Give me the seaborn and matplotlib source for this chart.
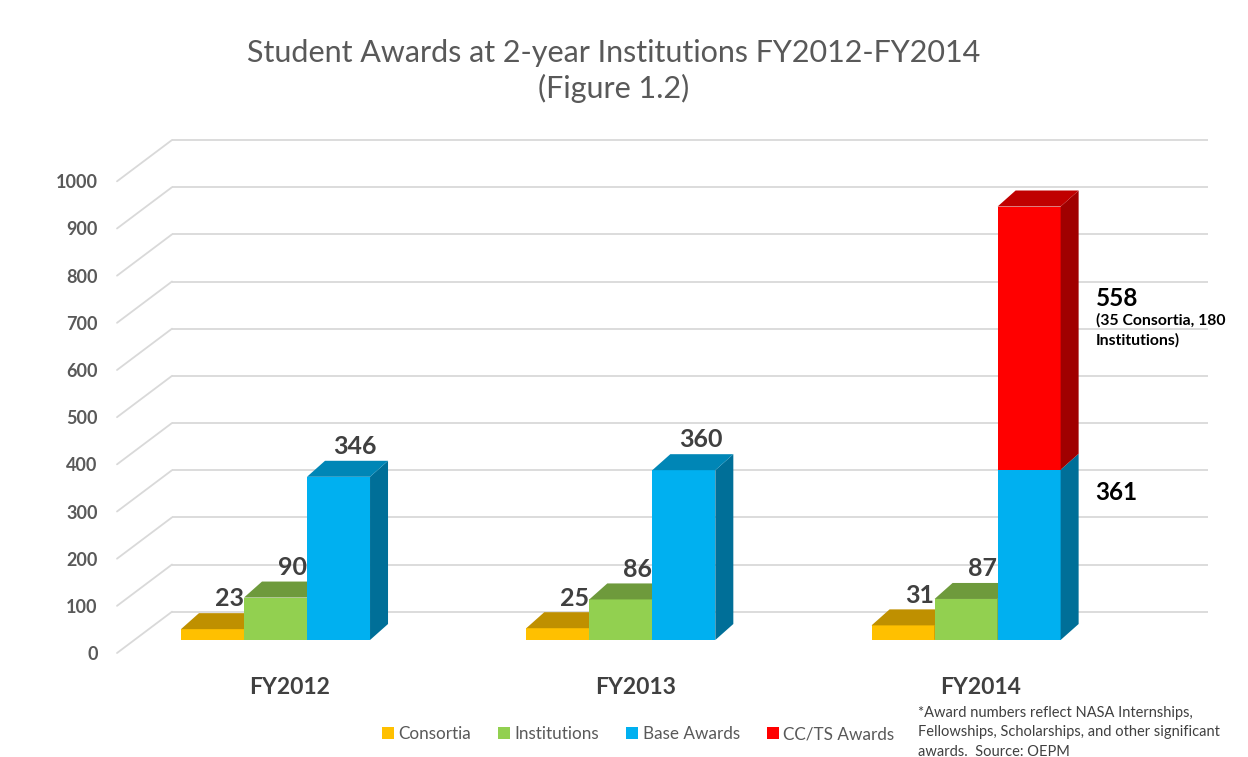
import matplotlib
matplotlib.use("Agg")
import matplotlib.pyplot as plt
from matplotlib.patches import Polygon
from matplotlib.lines import Line2D
import pandas as pd
import seaborn as sns

# ---- data -------------------------------------------------------------
years = ["FY2012", "FY2013", "FY2014"]
series = ["Consortia", "Institutions", "Base Awards", "CC/TS Awards"]
consortia = [23, 25, 31]
institutions = [90, 86, 87]
base_awards = [346, 360, 361]
ccts_awards = [0, 0, 558]
y_ticks = [0, 100, 200, 300, 400, 500, 600, 700, 800, 900, 1000]
ccts_note = "(35 Consortia, 180\nInstitutions)"
title = "Student Awards at 2-year Institutions FY2012-FY2014\n(Figure 1.2)"
footnote = ("*Award numbers reflect NASA Internships,\n"
            "Fellowships, Scholarships, and other significant\n"
            "awards.  Source: OEPM")

# ---- colours ----------------------------------------------------------
front_colors = {"Consortia": "#FFC000", "Institutions": "#92D050",
                "Base Awards": "#00B0F0", "CC/TS Awards": "#FF0000"}
top_colors = {"Consortia": "#BF9000", "Institutions": "#6E9A3C",
              "Base Awards": "#0086B6", "CC/TS Awards": "#C00000"}
side_colors = {"Consortia": "#A07800", "Institutions": "#5C8232",
               "Base Awards": "#006F98", "CC/TS Awards": "#A00000"}
GRID = "#D9D9D9"
TEXT_GRAY = "#595959"
LABEL_DARK = "#404040"

# ---- long-form table for seaborn --------------------------------------
df = pd.DataFrame({
    "year": years * 3,
    "series": [series[0]] * 3 + [series[1]] * 3 + [series[2]] * 3,
    "awards": consortia + institutions + base_awards,
})

sns.set_theme(style="white")
plt.rcParams["font.family"] = ["Lato", "DejaVu Sans"]

fig = plt.figure(figsize=(12.48, 7.57), dpi=100)
W, H = 1248, 757
ax = fig.add_axes([110 / W, (H - 660) / H, 1105 / W, 530 / H])

# pixel scale of the data axes
PX_X = 345.3          # pixels per category step
PX_V = 0.4717         # pixels per award
DX = 18 / PX_X        # bar depth, horizontal
DV = 16 / PX_V        # bar depth, vertical
FRONT_SHIFT = -27.6   # floor front edge relative to bar base
BACK_SHIFT = 60.0     # back wall relative to bar base
X_FRONT = (117 - 275.5) / PX_X
X_WALL0 = (172 - 275.5) / PX_X
X_WALL1 = (1208 - 275.5) / PX_X

sns.barplot(data=df, x="year", y="awards", hue="series",
            hue_order=series[:3], palette=front_colors, order=years,
            width=0.5475, saturation=1, linewidth=0, legend=False, ax=ax)

ax.set_xlim((110 - 275.5) / PX_X, (1215 - 275.5) / PX_X)
ax.set_ylim((640 - 660) / PX_V, (640 - 130) / PX_V)

# back wall gridlines and the receding floor/wall diagonals
for v in y_ticks:
    ax.plot([X_WALL0, X_WALL1], [v + BACK_SHIFT] * 2, color=GRID, lw=1.3,
            zorder=1, solid_capstyle="butt")
    ax.plot([X_FRONT, X_WALL0], [v + FRONT_SHIFT, v + BACK_SHIFT],
            color=GRID, lw=1.3, zorder=1)


def add_faces(x0, w, y0, y1, name, z, top=True):
    side = Polygon([(x0 + w, y0), (x0 + w + DX, y0 + DV),
                    (x0 + w + DX, y1 + DV), (x0 + w, y1)],
                   closed=True, fc=side_colors[name], ec="none", zorder=z)
    ax.add_patch(side)
    if top:
        cap = Polygon([(x0, y1), (x0 + w, y1), (x0 + w + DX, y1 + DV),
                       (x0 + DX, y1 + DV)],
                      closed=True, fc=top_colors[name], ec="none", zorder=z)
        ax.add_patch(cap)


bars = list(ax.patches)
for p in bars:
    x0, w, h = p.get_x(), p.get_width(), p.get_height()
    cx = x0 + w / 2
    gi = int(round(cx))
    hi = int(round((cx - gi) / w)) + 1
    name = series[hi]
    z = 3 + 2 * hi
    p.set_zorder(z)
    stacked = name == "Base Awards" and ccts_awards[gi] > 0
    add_faces(x0, w, 0, h, name, z, top=not stacked)
    if stacked:
        extra = ccts_awards[gi]
        ax.bar(x0, extra, width=w, bottom=h, align="edge",
               color=front_colors["CC/TS Awards"], linewidth=0, zorder=z)
        add_faces(x0, w, h, h + extra, "CC/TS Awards", z)
        xr = x0 + w + DX + 17 / PX_X
        ax.text(xr, h - 49, f"{h:.0f}", ha="left", va="center",
                fontsize=17.5, fontweight="bold", color="black", zorder=20)
        ax.text(xr, h + extra - 195, f"{extra:.0f}", ha="left",
                va="center", fontsize=17.5, fontweight="bold",
                color="black", zorder=20)
        ax.text(xr, h + extra - 226, ccts_note, ha="left", va="top",
                fontsize=11.3, fontweight="bold", color="black",
                linespacing=1.5, zorder=20)
    else:
        ax.text(cx + 0.048, h + 64, f"{h:.0f}", ha="center", va="center",
                fontsize=18, fontweight="bold", color=LABEL_DARK, zorder=20)

# axes dressing
for s in ax.spines.values():
    s.set_visible(False)
ax.set_facecolor("none")
ax.set_xlabel("")
ax.set_ylabel("")
ax.set_yticks([v + FRONT_SHIFT for v in y_ticks],
              labels=[str(v) for v in y_ticks])
ax.set_xticks([i + 0.042 for i in range(len(years))], labels=years)
ax.tick_params(axis="y", length=0, pad=9, labelsize=13, labelcolor=TEXT_GRAY)
ax.tick_params(axis="x", length=0, pad=12, labelsize=16.5,
               labelcolor=LABEL_DARK)
for t in ax.get_yticklabels():
    t.set_fontweight("bold")
for t in ax.get_xticklabels():
    t.set_fontweight("bold")

# title
fig.text(614 / W, 1 - 71 / H, title, ha="center", va="center",
         fontsize=22, color=TEXT_GRAY, linespacing=1.25)

# legend
handles = [Line2D([], [], marker="s", linestyle="", markersize=9,
                  markerfacecolor=front_colors[s], markeredgewidth=0)
           for s in series]
fig.legend(handles, series, loc="center", ncol=4,
           bbox_to_anchor=(637 / W, 1 - 734 / H), frameon=False,
           fontsize=12.3, labelcolor=TEXT_GRAY, handletextpad=0.1,
           columnspacing=1.45, handlelength=1.0)

# footnote
fig.text(918 / W, 1 - 706 / H, footnote, ha="left", va="top",
         fontsize=10.5, color=LABEL_DARK, linespacing=1.48)

fig.savefig("out.png", dpi=100, facecolor="white")
